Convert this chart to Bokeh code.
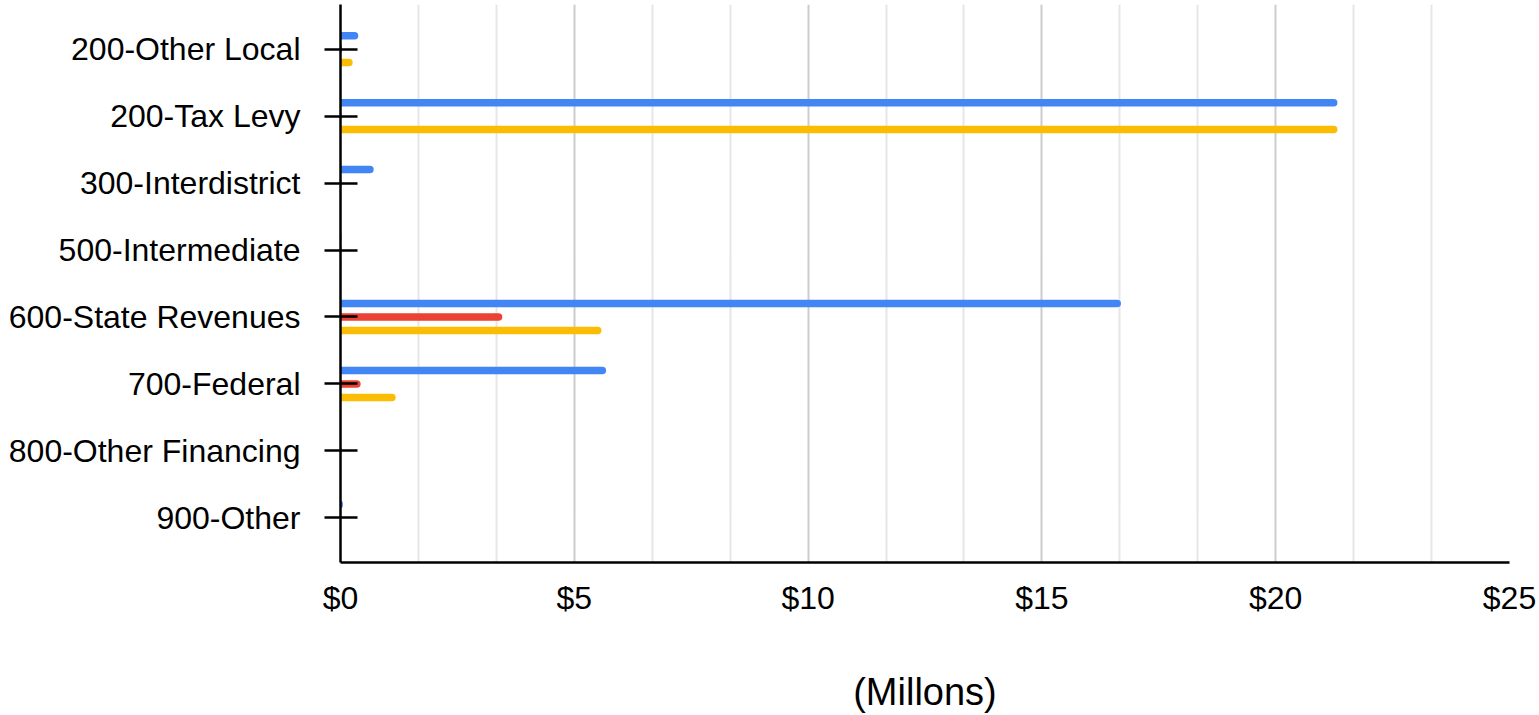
from bokeh.plotting import figure
from bokeh.models import (ColumnDataSource, FactorRange, Range1d, FixedTicker,
                          NumeralTickFormatter)
from bokeh.transform import dodge
from bokeh.embed import file_html
from bokeh.resources import INLINE

# Revenue sources, listed top to bottom
categories = ["200-Other Local", "200-Tax Levy", "300-Interdistrict",
              "500-Intermediate", "600-State Revenues", "700-Federal",
              "800-Other Financing", "900-Other"]

# Amounts in millions of dollars
revenue_a = [0.38, 21.32, 0.71, 0.02, 16.69, 5.68, 0.0, 0.05]
revenue_b = [0.03, 0.02, 0.02, 0.02, 3.46, 0.43, 0.02, 0.0]
revenue_c = [0.26, 21.32, 0.02, 0.02, 5.58, 1.18, 0.0, 0.0]

x_ticks = [0, 5, 10, 15, 20, 25]
x_minor = [5 * k / 3 for k in range(16) if k % 3 != 0]
x_title = "(Millons)"

source = ColumnDataSource(dict(cat=categories, a=revenue_a, b=revenue_b, c=revenue_c))

FONT = "Liberation Sans"

p = figure(width=1539, height=715,
           y_range=FactorRange(factors=list(reversed(categories)),
                               range_padding=0.165, range_padding_units="absolute"),
           x_range=Range1d(0, 25),
           output_backend="svg", toolbar_location=None,
           min_border_left=340, min_border_right=30,
           min_border_top=4, min_border_bottom=152)
p.outline_line_color = None
p.background_fill_color = "white"
p.border_fill_color = "white"

bar_h = 0.112
for col, off, color in [("a", 0.2, "#4285F4"), ("b", 0.0, "#EA4335"), ("c", -0.2, "#FBBC04")]:
    p.hbar(y=dodge("cat", off, range=p.y_range), left=0, right=col, height=bar_h,
           source=source, fill_color=color, line_color=None,
           border_radius=(0, 4, 4, 0))

# x axis
xa = p.xaxis[0]
xa.ticker = FixedTicker(ticks=x_ticks, minor_ticks=x_minor)
xa.formatter = NumeralTickFormatter(format="$0")
xa.major_tick_line_color = None
xa.minor_tick_line_color = None
xa.axis_line_color = "black"
xa.axis_line_width = 2.5
xa.major_label_text_font = FONT
xa.major_label_text_font_size = "32px"
xa.major_label_text_color = "black"
xa.major_label_standoff = 11
xa.axis_label = x_title
xa.axis_label_text_font = FONT
xa.axis_label_text_font_size = "38px"
xa.axis_label_text_font_style = "normal"
xa.axis_label_text_color = "black"
xa.axis_label_standoff = 52

# y axis
ya = p.yaxis[0]
ya.axis_line_color = "black"
ya.axis_line_width = 2.5
ya.major_tick_line_color = "black"
ya.major_tick_line_width = 2.5
ya.major_tick_in = 17
ya.major_tick_out = 16
ya.major_label_text_font = FONT
ya.major_label_text_font_size = "32px"
ya.major_label_text_color = "black"
ya.major_label_standoff = 24

# grid
p.ygrid.grid_line_color = None
p.xgrid.grid_line_color = "#cccccc"
p.xgrid.grid_line_width = 2
p.xgrid.minor_grid_line_color = "#e6e6e6"
p.xgrid.minor_grid_line_width = 2

open("out.html", "w").write(file_html(p, INLINE))
